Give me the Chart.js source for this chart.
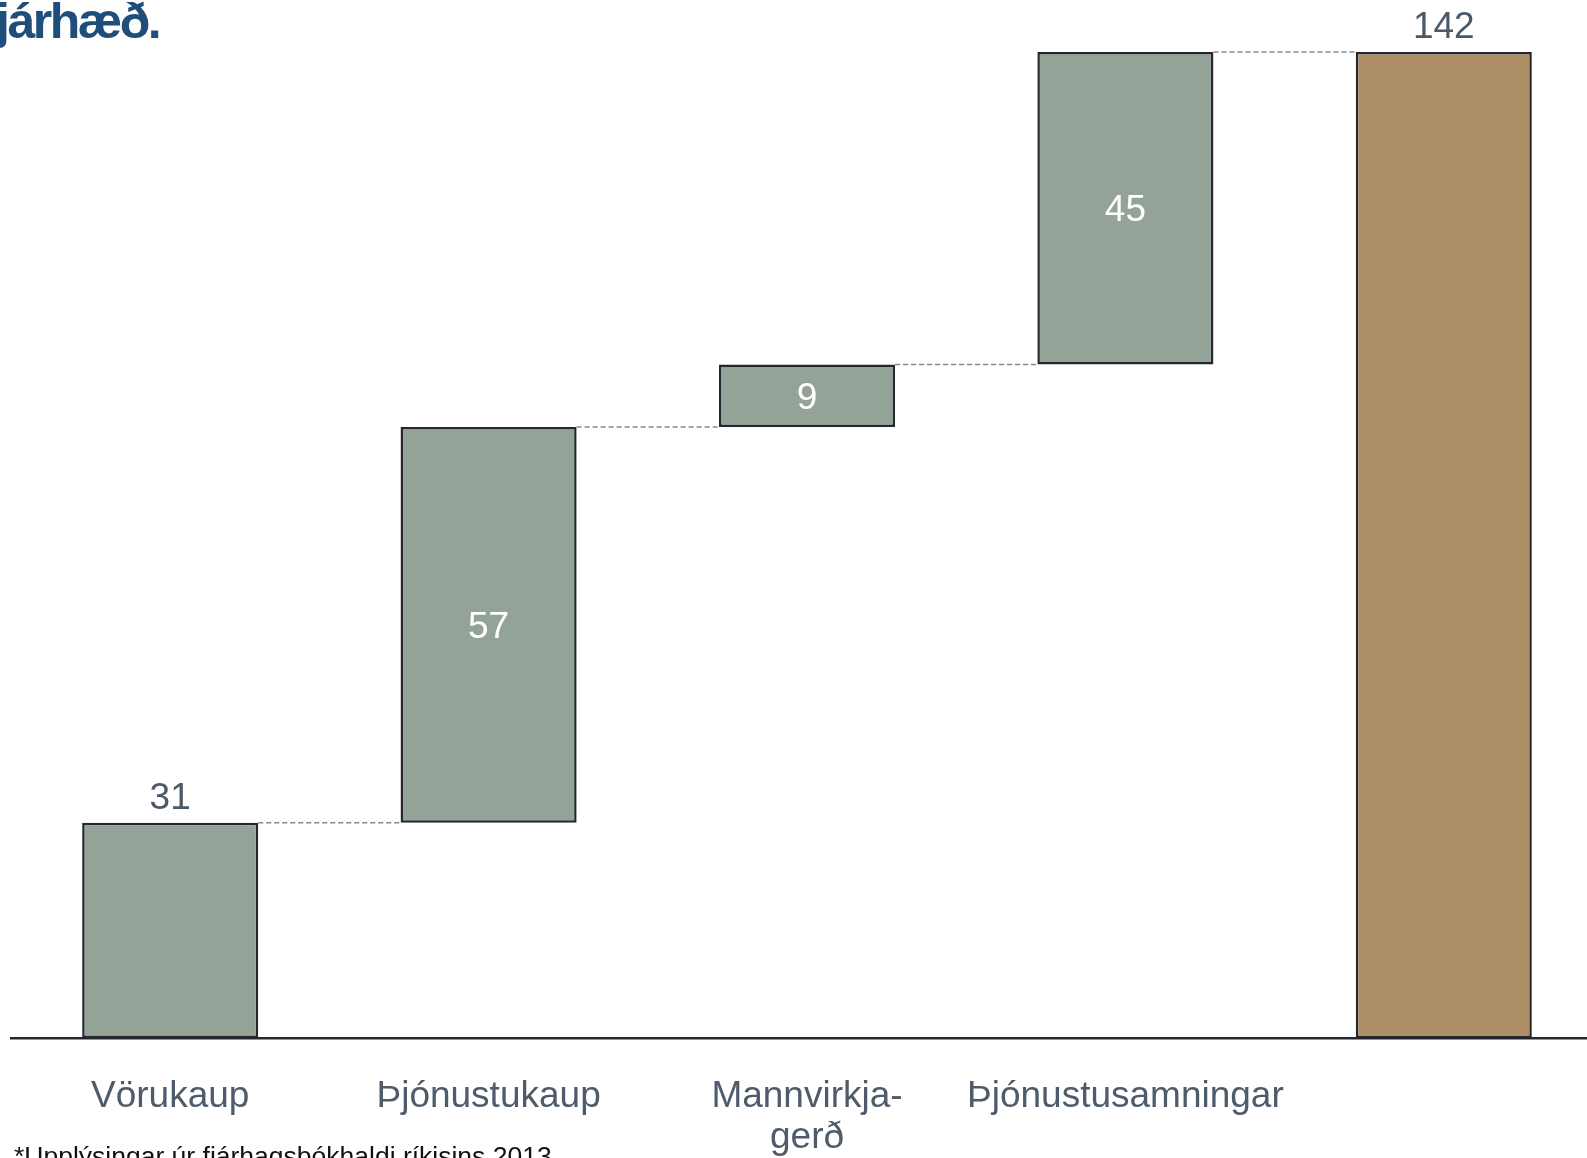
<!DOCTYPE html>
<html>
<head>
<meta charset="utf-8">
<script src="https://cdn.jsdelivr.net/npm/chart.js@4"></script>
<style>
  body { margin: 0; background: #fff; overflow: hidden; }
  #wrap { position: relative; width: 1587px; height: 1158px; overflow: hidden; }
  #graf { position: absolute; left: 0; top: 0; }
  #titill { position: absolute; left: -4px; top: -4px; font: bold 50px/50px "Liberation Sans", Arial, sans-serif; color: #1f4e7a; letter-spacing: -2.5px; white-space: nowrap; }
  #skyring { position: absolute; left: 14px; top: 1143px; font: 26.5px/26.5px "Liberation Sans", Arial, sans-serif; color: #111; white-space: nowrap; }
</style>
</head>
<body>
<div id="wrap">
  <canvas id="graf" width="1605" height="1158"></canvas>
  <div id="titill">járhæð.</div>
  <div id="skyring">*Upplýsingar úr fjárhagsbókhaldi ríkisins 2013</div>
</div>
<script>
const flokkar = ['Vörukaup', 'Þjónustukaup', ['Mannvirkja-', 'gerð'], 'Þjónustusamningar', ''];
const upphaedir = [31, 57, 9, 45];
const samtals = 142;

// byrjun og endir hvers stólpa
let staða = 0;
const bil = upphaedir.map(v => {
  const b = [staða, staða + v];
  staða += v;
  return b;
});
bil.push([0, samtals]);
const merki = [...upphaedir, samtals];
const litir = [...upphaedir.map(() => '#93a398'), '#ad8e66'];

const tengilinur = {
  id: 'tengilinur',
  afterDatasetsDraw(chart) {
    const ctx = chart.ctx;
    const meta = chart.getDatasetMeta(0);
    const y = chart.scales.y;
    ctx.save();
    // strikalínur á milli stólpa
    ctx.strokeStyle = '#8a8a8a';
    ctx.lineWidth = 1.5;
    ctx.setLineDash([5, 3]);
    for (let i = 0; i < meta.data.length - 1; i++) {
      const a = meta.data[i], b = meta.data[i + 1];
      const yy = y.getPixelForValue(bil[i][1]);
      ctx.beginPath();
      ctx.moveTo(a.x + a.width / 2, yy);
      ctx.lineTo(b.x - b.width / 2, yy);
      ctx.stroke();
    }
    ctx.setLineDash([]);
    // tölur
    ctx.font = '37px "Liberation Sans", Arial, sans-serif';
    ctx.textAlign = 'center';
    ctx.textBaseline = 'middle';
    meta.data.forEach((bar, i) => {
      const utan = i === 0 || i === meta.data.length - 1;
      if (utan) {
        ctx.fillStyle = '#4a5868';
        ctx.fillText(merki[i], bar.x, y.getPixelForValue(bil[i][1]) - 24);
      } else {
        ctx.fillStyle = '#ffffff';
        const mid = (y.getPixelForValue(bil[i][0]) + y.getPixelForValue(bil[i][1])) / 2;
        ctx.fillText(merki[i], bar.x, mid + 3);
      }
    });
    ctx.restore();
  }
};

new Chart(document.getElementById('graf'), {
  type: 'bar',
  data: {
    labels: flokkar,
    datasets: [{
      data: bil,
      backgroundColor: litir,
      borderColor: '#26272e',
      borderWidth: 2.5,
      borderSkipped: false,
      barPercentage: 0.553,
      categoryPercentage: 1
    }]
  },
  options: {
    responsive: false,
    animation: false,
    layout: { padding: { top: 52, left: 11, right: 2, bottom: 0 } },
    plugins: { legend: { display: false }, tooltip: { enabled: false } },
    scales: {
      x: {
        grid: { display: false, drawTicks: false },
        border: { display: true, color: '#26272e', width: 2.5 },
        ticks: {
          color: '#4d5b6a',
          font: { family: '"Liberation Sans", Arial, sans-serif', size: 37, lineHeight: 1.12 },
          padding: 38,
          maxRotation: 0,
          autoSkip: false
        },
        afterFit(scale) { scale.height = 120; }
      },
      y: {
        display: false,
        min: 0,
        max: samtals
      }
    }
  },
  plugins: [tengilinur]
});
</script>
</body>
</html>
